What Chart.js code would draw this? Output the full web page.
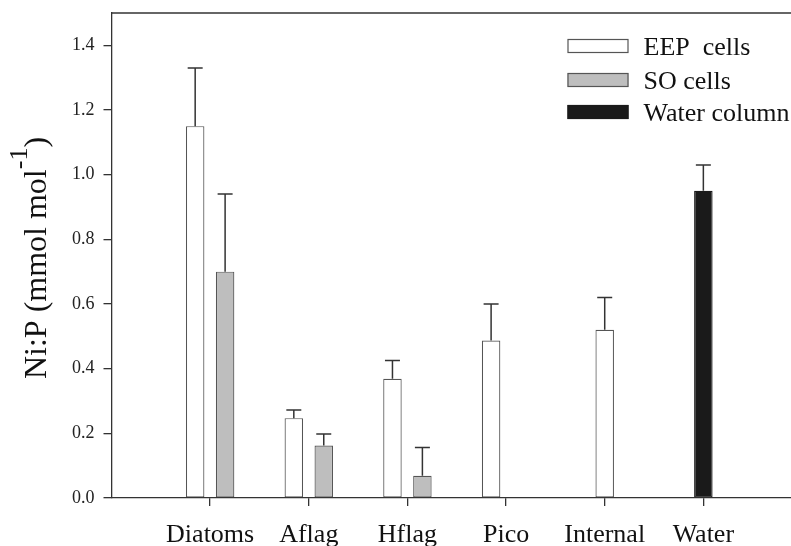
<!DOCTYPE html>
<html>
<head>
<meta charset="utf-8">
<script src="https://cdn.jsdelivr.net/npm/chart.js@4/dist/chart.umd.min.js"></script>
<style>
  html, body { margin: 0; padding: 0; overflow: hidden; background: #ffffff; }
  #wrap { width: 802px; height: 546px; }
  canvas { display: block; }
</style>
</head>
<body>
<div id="wrap"><canvas id="c" width="802" height="546"></canvas></div>
<script>
// ---- data ----
const categories = ['Diatoms', 'Aflag', 'Hflag', 'Pico', 'Internal', 'Water'];
const seriesLabels = ['EEP  cells', 'SO cells', 'Water column'];
const eepValues   = [1.15, 0.247, 0.369, 0.487, 0.520, null];
const eepErrors   = [0.18, 0.025, 0.056, 0.113, 0.100, null];
const soValues    = [0.70, 0.162, 0.069, 0, null, null];
const soErrors    = [0.24, 0.036, 0.087, null, null, null];
const waterValues = [null, null, null, null, null, 0.95];
const waterErrors = [null, null, null, null, null, 0.08];
const yTickValues = [0, 0.2, 0.4, 0.6, 0.8, 1.0, 1.2, 1.4];
const yTitleMain = 'Ni:P (mmol mol';
const yTitleSup = '-1';
const yTitleEnd = ')';

const SERIF = "'Liberation Serif', 'Times New Roman', serif";
const AXIS = '#333333';

function toPoints(vals) { return vals.map((v, i) => ({ x: i + 1, y: v })); }

const errorSets = [eepErrors, soErrors, waterErrors];

const errorBarPlugin = {
  id: 'errorBars',
  afterDatasetsDraw(chart) {
    const ctx = chart.ctx;
    const yScale = chart.scales.y;
    ctx.save();
    ctx.strokeStyle = '#333333';
    ctx.lineWidth = 1.5;
    chart.data.datasets.forEach((ds, di) => {
      const errs = errorSets[di];
      const meta = chart.getDatasetMeta(di);
      meta.data.forEach((bar, j) => {
        const v = ds.data[j].y;
        const e = errs[j];
        if (v == null || e == null) return;
        const yTop = yScale.getPixelForValue(v + e);
        const yBar = yScale.getPixelForValue(v);
        const half = 7.5;
        ctx.beginPath();
        ctx.moveTo(bar.x, yBar);
        ctx.lineTo(bar.x, yTop);
        ctx.moveTo(bar.x - half, yTop);
        ctx.lineTo(bar.x + half, yTop);
        ctx.stroke();
      });
    });
    ctx.restore();
  }
};

const framePlugin = {
  id: 'frameAndTitle',
  afterDraw(chart) {
    const ctx = chart.ctx;
    const a = chart.chartArea;
    ctx.save();
    // top frame line
    ctx.strokeStyle = AXIS;
    ctx.lineWidth = 1.3;
    ctx.beginPath();
    ctx.moveTo(a.left, a.top);
    ctx.lineTo(a.right, a.top);
    ctx.stroke();

    // y-axis title with superscript
    const mainFont = '32px ' + SERIF;
    const supFont = '26px ' + SERIF;
    ctx.fillStyle = '#111111';
    ctx.font = mainFont;
    const wMain = ctx.measureText(yTitleMain).width;
    const wEnd = ctx.measureText(yTitleEnd).width;
    ctx.font = supFont;
    const wSup = ctx.measureText(yTitleSup).width;
    const total = wMain + wSup + wEnd;
    const cy = (a.top + a.bottom) / 2 + 2.5;
    ctx.translate(46, cy);
    ctx.rotate(-Math.PI / 2);
    ctx.textBaseline = 'alphabetic';
    ctx.textAlign = 'left';
    let x = -total / 2;
    ctx.font = mainFont;
    ctx.fillText(yTitleMain, x, 0);
    x += wMain;
    ctx.font = supFont;
    ctx.fillText(yTitleSup, x, -19);
    x += wSup;
    ctx.font = mainFont;
    ctx.fillText(yTitleEnd, x, 0);
    ctx.restore();

    // legend inside plot area
    ctx.save();
    const boxX = a.left + 456;
    const boxW = 61, boxH = 14;
    const rowY = [a.top + 33, a.top + 67, a.top + 99];
    ctx.font = '26px ' + SERIF;
    ctx.textBaseline = 'alphabetic';
    ctx.textAlign = 'left';
    chart.data.datasets.forEach((ds, i) => {
      const cyR = rowY[i];
      ctx.fillStyle = ds.backgroundColor;
      ctx.fillRect(boxX, cyR - boxH / 2, boxW, boxH);
      ctx.strokeStyle = ds.borderColor;
      ctx.lineWidth = 1.2;
      ctx.strokeRect(boxX + 0.5, cyR - boxH / 2 + 0.5, boxW - 1, boxH - 1);
      ctx.fillStyle = '#111111';
      ctx.fillText(ds.label, boxX + 76, cyR + 8.6);
    });
    ctx.restore();
  }
};

new Chart(document.getElementById('c'), {
  type: 'bar',
  data: {
    datasets: [
      { label: seriesLabels[0], data: toPoints(eepValues), backgroundColor: '#ffffff', borderColor: '#555555', borderWidth: 1.2, borderSkipped: false },
      { label: seriesLabels[1], data: toPoints(soValues), backgroundColor: '#bebebe', borderColor: '#555555', borderWidth: 1.2, borderSkipped: false },
      { label: seriesLabels[2], data: toPoints(waterValues), backgroundColor: '#1a1a1a', borderColor: '#1a1a1a', borderWidth: 1.2, borderSkipped: false }
    ]
  },
  options: {
    responsive: false,
    animation: false,
    events: [],
    skipNull: true,
    categoryPercentage: 0.607,
    barPercentage: 0.617,
    maxBarThickness: 18.5,
    layout: { padding: { top: 13, left: 0, right: 0, bottom: 0 } },
    plugins: { legend: { display: false }, tooltip: { enabled: false } },
    scales: {
      x: {
        type: 'linear',
        offset: false,
        min: 0,
        max: categories.length + 1,
        grid: { offset: false, drawOnChartArea: false, drawTicks: true, tickLength: 8, color: AXIS, lineWidth: 1.3 },
        border: { display: true, color: AXIS, width: 1.3 },
        ticks: {
          stepSize: 1,
          autoSkip: false,
          maxRotation: 0,
          padding: 14,
          color: '#111111',
          font: { family: SERIF, size: 26 },
          callback: (v) => categories[v - 1] || ''
        },
        afterBuildTicks: (axis) => {
          axis.ticks = axis.ticks.filter(t => t.value >= 1 && t.value <= categories.length);
        },
        afterFit: (axis) => { axis.height = 48; axis.paddingLeft = 0; axis.paddingRight = 0; }
      },
      y: {
        min: 0,
        max: 1.5,
        grid: { drawOnChartArea: false, drawTicks: true, tickLength: 8, color: AXIS, lineWidth: 1.3 },
        border: { display: true, color: AXIS, width: 1.3 },
        ticks: {
          padding: 9,
          color: '#222222',
          font: { family: SERIF, size: 18 },
          callback: (v) => Number(v).toFixed(1)
        },
        afterBuildTicks: (axis) => {
          axis.ticks = yTickValues.map(v => ({ value: v }));
        },
        afterFit: (axis) => { axis.width = 111.5; axis.paddingTop = 0; axis.paddingBottom = 0; }
      }
    }
  },
  plugins: [errorBarPlugin, framePlugin]
});
</script>
</body>
</html>
